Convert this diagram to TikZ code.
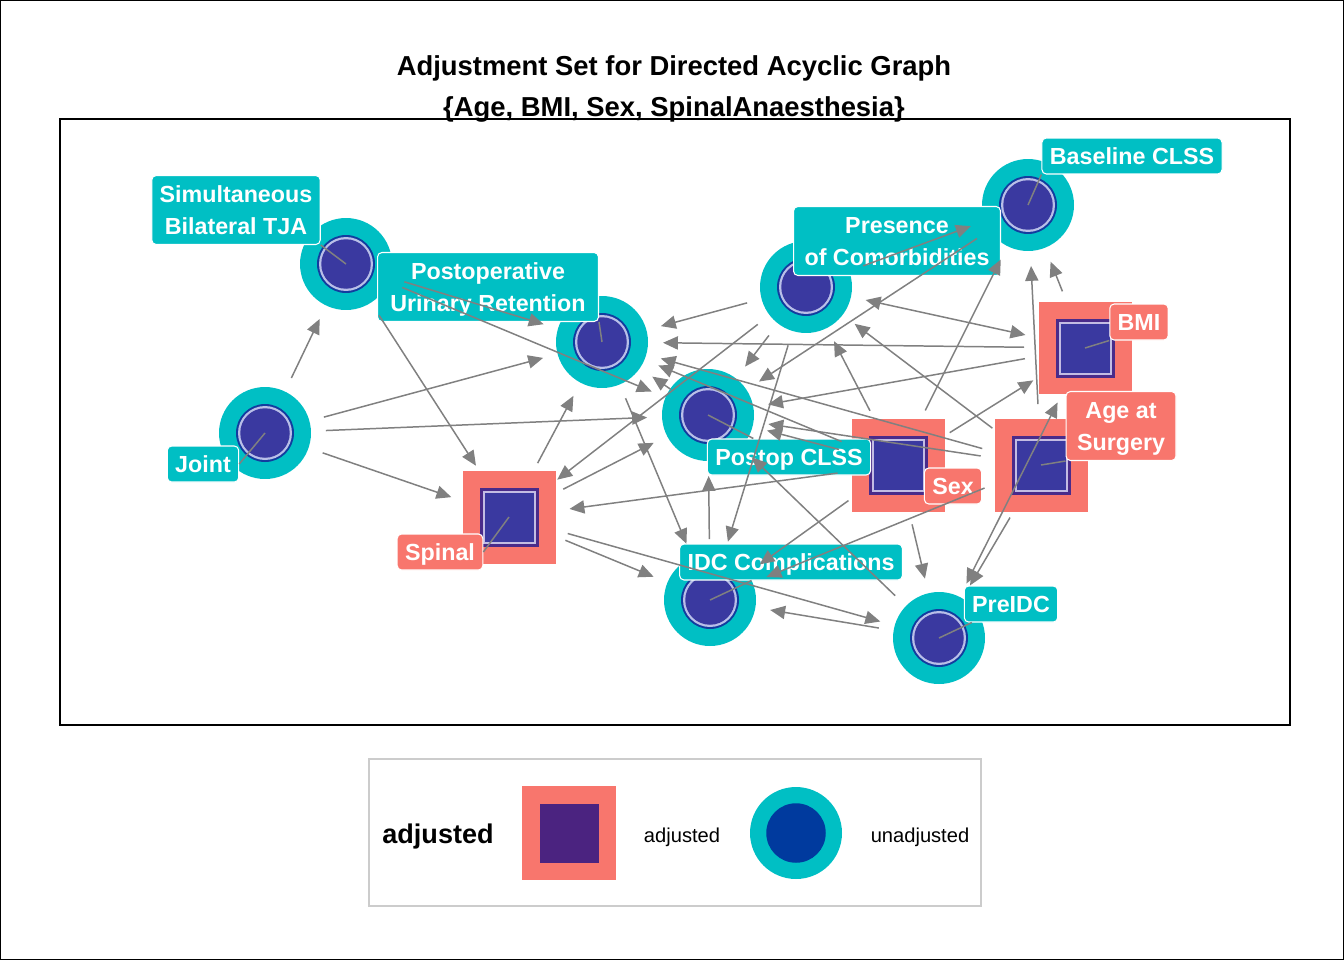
\documentclass[tikz,border=0pt]{standalone}
\usepackage{fontspec}
\setmainfont{Liberation Sans}
\usepackage{tikz}
\usetikzlibrary{arrows.meta}
\definecolor{dagcyan}{HTML}{00BFC4}
\definecolor{dagsalmon}{HTML}{F8766D}
\definecolor{corefill}{HTML}{3A39A0}
\definecolor{ringblue}{HTML}{123C9F}
\definecolor{ringlav}{HTML}{B9BFE8}
\definecolor{sqpurple}{HTML}{4A2B8A}
\definecolor{sqlav}{HTML}{C3BCE3}
\definecolor{keypurple}{HTML}{4B2380}
\definecolor{keyblue}{HTML}{003A9E}
\definecolor{edgegray}{HTML}{808080}
\definecolor{keyframe}{HTML}{CCCCCC}
\newcommand{\twoline}[2]{\rule{0pt}{12.5pt}#1\\#2\rule[-3pt]{0pt}{3pt}}

\begin{document}
\begin{tikzpicture}[x=0.02cm,y=-0.02cm,
  unadj/.style={circle,fill=dagcyan,minimum size=1.84cm,inner sep=0pt,
    path picture={
      \fill[ringblue] (path picture bounding box.center) circle (0.58cm);
      \fill[ringlav] (path picture bounding box.center) circle (0.54cm);
      \fill[corefill] (path picture bounding box.center) circle (0.495cm);}},
  adj/.style={rectangle,fill=dagsalmon,minimum size=1.86cm,inner sep=0pt,
    path picture={
      \fill[sqpurple] (path picture bounding box.center) ++(-0.59cm,-0.59cm) rectangle ++(1.18cm,1.18cm);
      \fill[sqlav] (path picture bounding box.center) ++(-0.53cm,-0.53cm) rectangle ++(1.06cm,1.06cm);
      \fill[corefill] (path picture bounding box.center) ++(-0.49cm,-0.49cm) rectangle ++(0.98cm,0.98cm);}},
  lab/.style={rounded corners=2.5pt,draw=white,line width=0.6pt,text=white,align=center,
    font=\bfseries\fontsize{13.25}{18.5}\selectfont,inner xsep=4.5pt,inner ysep=2pt,
    minimum height=0.72cm},
  ulab/.style={lab,fill=dagcyan},
  alab/.style={lab,fill=dagsalmon},
  oneline/.style={text height=12.5pt,text depth=3pt},
  twolines/.style={minimum height=1.38cm},
  edge/.style={-{Triangle[length=8.5pt,width=7.5pt]},line width=0.85pt,draw=edgegray,
    shorten >=1.22cm,shorten <=1.22cm},
  both/.style={edge,{Triangle[length=8.5pt,width=7.5pt]}-{Triangle[length=8.5pt,width=7.5pt]}},
  leader/.style={draw=edgegray,line width=0.85pt}
]
\useasboundingbox (0,0) rectangle (1344,960);
\draw[line width=0.7pt] (0.6,0.6) rectangle (1343.4,959.4);

\node[anchor=base,font=\bfseries\fontsize{15.6}{18}\selectfont] (title) at (674,75)
  {Adjustment Set for Directed Acyclic Graph};
\node[anchor=base,font=\bfseries\fontsize{15.6}{18}\selectfont] (subtitle) at (674,116)
  {\{Age, BMI, Sex, SpinalAnaesthesia\}};
\draw[line width=0.8pt] (60,119) rectangle (1290,725);

\node[unadj] (sbt) at (346,264) {};
\node[unadj] (pur) at (602,342) {};
\node[unadj] (joint) at (265,433) {};
\node[unadj] (poc) at (806,287) {};
\node[unadj] (base) at (1028,205) {};
\node[unadj] (postop) at (708,415) {};
\node[unadj] (idc) at (710,600) {};
\node[unadj] (preidc) at (939,638) {};
\node[adj] (spinal) at (509,517) {};
\node[adj] (bmi) at (1085,348) {};
\node[adj] (sex) at (898,465) {};
\node[adj] (age) at (1041,465) {};

\node[ulab,twolines] (sbtl) at (236,210) {\twoline{Simultaneous}{Bilateral TJA}};
\node[ulab,twolines,minimum width=4.42cm] (purl) at (488,287) {\twoline{Postoperative}{Urinary Retention}};
\node[ulab,oneline] (jointl) at (203,464) {Joint};
\node[alab,oneline] (spinall) at (440,552) {Spinal};
\node[ulab,twolines,minimum width=4.14cm] (pocl) at (897,241) {\twoline{Presence}{of Comorbidities}};
\node[ulab,oneline] (basel) at (1132,156) {Baseline CLSS};
\node[alab,oneline] (bmil) at (1139,322) {BMI};
\node[ulab,oneline] (postopl) at (789,457) {Postop CLSS};
\node[alab,oneline] (sexl) at (953,486) {Sex};
\node[alab,twolines,minimum width=2.2cm] (agel) at (1121,426) {\twoline{Age at}{Surgery}};
\node[ulab,oneline] (idcl) at (791,562) {IDC Complications};
\node[ulab,oneline] (preidcl) at (1011,604) {PreIDC};

\draw[leader] (sbt.center) -- (sbtl.south east);
\draw[leader] (pur.center) -- (purl.south east);
\draw[leader] (joint.center) -- (jointl.east);
\draw[leader] (spinal.center) -- (spinall.east);
\draw[leader] (base.center) -- (basel.south west);
\draw[leader] (bmi.center) -- (bmil.south west);
\draw[leader] (postop.center) -- (postopl);
\draw[leader] (age.center) -- (agel.south west);
\draw[leader] (idc.center) -- (idcl);
\draw[leader] (preidc.center) -- (preidcl);

\draw[edge] (joint.center) -- (sbt.center);
\draw[edge] (joint.center) -- (pur.center);
\draw[edge] (joint.center) -- (postop.center);
\draw[edge] (joint.center) -- (spinal.center);
\draw[edge] (sbt.center) -- (spinal.center);
\draw[edge] (sbt.center) -- (pur.center);
\draw[edge] (sbt.center) -- (postop.center);
\draw[edge] (spinal.center) -- (pur.center);
\draw[edge] (spinal.center) -- (postop.center);
\draw[edge] (spinal.center) -- (idc.center);
\draw[edge] (spinal.center) -- (preidc.center);
\draw[edge] (poc.center) -- (pur.center);
\draw[edge] (poc.center) -- (postop.center);
\draw[edge] (poc.center) -- (spinal.center);
\draw[edge] (poc.center) -- (idc.center);
\draw[edge] (poc.center) -- (base.center);
\draw[both] (poc.center) -- (bmi.center);
\draw[edge] (base.center) -- (postop.center);
\draw[edge] (bmi.center) -- (pur.center);
\draw[edge] (bmi.center) -- (postop.center);
\draw[edge] (bmi.center) -- (base.center);
\draw[both] (bmi.center) -- (preidc.center);
\draw[edge] (age.center) -- (pur.center);
\draw[edge] (age.center) -- (postop.center);
\draw[edge] (age.center) -- (poc.center);
\draw[edge] (age.center) -- (base.center);
\draw[edge] (age.center) -- (idc.center);
\draw[edge] (age.center) -- (preidc.center);
\draw[edge] (sex.center) -- (pur.center);
\draw[edge] (sex.center) -- (postop.center);
\draw[edge] (sex.center) -- (poc.center);
\draw[edge] (sex.center) -- (base.center);
\draw[edge] (sex.center) -- (bmi.center);
\draw[edge] (sex.center) -- (spinal.center);
\draw[edge] (sex.center) -- (idc.center);
\draw[edge] (sex.center) -- (preidc.center);
\draw[edge,shorten <=0.9cm] (postop.center) -- (pur.center);
\draw[edge] (pur.center) -- (idc.center);
\draw[edge] (idc.center) -- (postop.center);
\draw[edge] (preidc.center) -- (postop.center);
\draw[edge] (preidc.center) -- (idc.center);

\draw[keyframe,line width=1.1pt] (369,759) rectangle (981,906);
\node[anchor=base,font=\bfseries\fontsize{15.4}{18}\selectfont] (keyttl) at (438,843) {adjusted};
\node[rectangle,fill=dagsalmon,minimum size=1.87cm,inner sep=0pt] (keyadj) at (569,833) {};
\node[rectangle,fill=keypurple,minimum size=1.18cm,inner sep=0pt] at (keyadj) {};
\node[anchor=base,font=\fontsize{11.45}{14}\selectfont] (keyadjt) at (682,842) {adjusted};
\node[circle,fill=dagcyan,minimum size=1.84cm,inner sep=0pt] (keyunadj) at (796,833) {};
\node[circle,fill=keyblue,minimum size=1.19cm,inner sep=0pt] at (keyunadj) {};
\node[anchor=base,font=\fontsize{11.45}{14}\selectfont] (keyunadjt) at (920,842) {unadjusted};
\end{tikzpicture}
\end{document}
